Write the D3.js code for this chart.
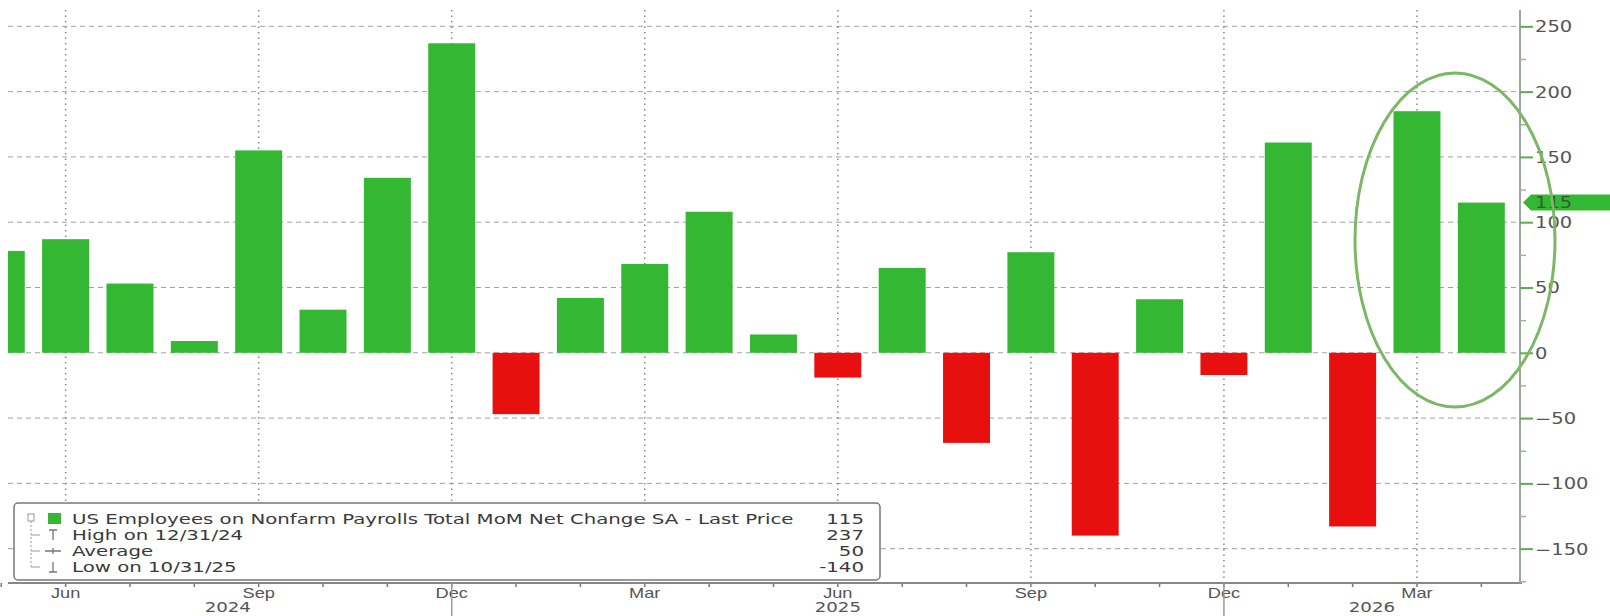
<!DOCTYPE html>
<html>
<head>
<meta charset="utf-8">
<script src="https://cdn.jsdelivr.net/npm/d3@7"></script>
<style>
body { margin: 0; background: #fff; }
svg { display: block; font-family: "DejaVu Sans", Verdana, sans-serif; }
</style>
</head>
<body>
<script>
"use strict";

// monthly change, thousands
var months = ["2024-05", "2024-06", "2024-07", "2024-08", "2024-09", "2024-10", "2024-11", "2024-12",
    "2025-01", "2025-02", "2025-03", "2025-04", "2025-05", "2025-06", "2025-07", "2025-08",
    "2025-09", "2025-10", "2025-11", "2025-12", "2026-01", "2026-02", "2026-03", "2026-04"];
var payrolls = [78, 87, 53, 9, 155, 33, 134, 237,
    -47, 42, 68, 108, 14, -19, 65, -69,
    77, -140, 41, -17, 161, -133, 185, 115];
var quarterTicks = ["2024-06", "2024-09", "2024-12", "2025-03", "2025-06", "2025-09", "2025-12", "2026-03"];
var yearLabels = ["2024", "2025", "2026"];
var yearAnchors = ["2024-08", "2025-06", "2026-02"];
var yTicks = [-150, -100, -50, 0, 50, 100, 150, 200, 250];
var yMinorTicks = [-175, -125, -75, -25, 25, 75, 125, 175, 225];
var legendLabels = ["US Employees on Nonfarm Payrolls Total MoM Net Change SA - Last Price",
    "High on 12/31/24", "Average", "Low on 10/31/25"];
var legendValues = ["115", "237", "50", "-140"];
var lastValue = 115;

var width = 1610;
var height = 616;
var plot = {left: 8, right: 1520, top: 10, bottom: 583};
var green = "#34b834";
var red = "#e8100f";
var stretch = 1.3; // text in the picture is wide

var parseMonth = d3.timeParse("%Y-%m");
var fmtMonth = d3.timeFormat("%b");

var x = d3.scaleBand().domain(months).range([-30.9, 1513.5]);
var y = d3.scaleLinear().domain([-176.3, 262.5]).range([plot.bottom, plot.top]);
var barW = x.step() * 0.73;
function xc(m) { return x(m) + x.step() / 2; }

var svg = d3.select("body").append("svg")
    .attr("width", width)
    .attr("height", height);

svg.append("defs").append("clipPath").attr("id", "plotclip")
    .append("rect")
    .attr("x", plot.left).attr("y", plot.top)
    .attr("width", plot.right - plot.left).attr("height", plot.bottom - plot.top);

// horizontal dashed grid
svg.append("g").attr("class", "hgrid")
    .selectAll("line")
    .data(yTicks)
    .enter()
    .append("line")
    .attr("x1", plot.left).attr("x2", plot.right)
    .attr("y1", function(d) { return y(d); })
    .attr("y2", function(d) { return y(d); })
    .attr("stroke", "#a0a0a0")
    .attr("stroke-width", 1)
    .attr("stroke-dasharray", "5,4");

// vertical dotted grid at quarter months
svg.append("g").attr("class", "vgrid")
    .selectAll("line")
    .data(quarterTicks)
    .enter()
    .append("line")
    .attr("x1", xc).attr("x2", xc)
    .attr("y1", plot.top).attr("y2", plot.bottom)
    .attr("stroke", "#888")
    .attr("stroke-width", 1.5)
    .attr("stroke-dasharray", "1.5,4");

// bars
svg.append("g").attr("class", "bars")
    .attr("clip-path", "url(#plotclip)")
    .selectAll("rect")
    .data(months)
    .enter()
    .append("rect")
    .attr("x", function(d) { return xc(d) - barW / 2; })
    .attr("width", barW)
    .attr("y", function(d, i) { return y(Math.max(0, payrolls[i])); })
    .attr("height", function(d, i) { return Math.abs(y(payrolls[i]) - y(0)); })
    .attr("fill", function(d, i) { return payrolls[i] < 0 ? red : green; });

// bottom axis
var xAxisG = svg.append("g")
    .attr("transform", "translate(0," + plot.bottom + ")")
    .call(d3.axisBottom(x).tickSize(4).tickSizeOuter(0).tickFormat(""));
xAxisG.select(".domain").remove();
xAxisG.selectAll(".tick line").attr("stroke", "#777").attr("stroke-width", 1.5);
xAxisG.selectAll(".tick")
    .filter(function(d) { return quarterTicks.indexOf(d) >= 0; })
    .append("text")
    .attr("text-anchor", "middle")
    .attr("transform", "translate(0,15) scale(" + stretch + ",1)")
    .attr("fill", "#555")
    .attr("font-size", 14)
    .text(function(d) { return fmtMonth(parseMonth(d)); });

svg.append("line")
    .attr("x1", plot.left).attr("x2", plot.right + 2)
    .attr("y1", plot.bottom).attr("y2", plot.bottom)
    .attr("stroke", "#888")
    .attr("stroke-width", 2);

// year separators under December
svg.append("g").selectAll("line")
    .data(["2024-12", "2025-12"])
    .enter()
    .append("line")
    .attr("x1", xc).attr("x2", xc)
    .attr("y1", plot.bottom).attr("y2", height)
    .attr("stroke", "#999")
    .attr("stroke-width", 1.5);

var yearShift = [0.52, 0, 0.3];
svg.append("g").selectAll("text")
    .data(yearLabels)
    .enter()
    .append("text")
    .attr("text-anchor", "middle")
    .attr("transform", function(d, i) {
        var px = xc(yearAnchors[i]) + yearShift[i] * x.step();
        return "translate(" + px + ",612) scale(" + stretch + ",1)";
    })
    .attr("fill", "#555")
    .attr("font-size", 14)
    .text(function(d) { return d; });

// right axis
svg.append("line")
    .attr("x1", plot.right).attr("x2", plot.right)
    .attr("y1", plot.top).attr("y2", plot.bottom)
    .attr("stroke", "#9aa89a")
    .attr("stroke-width", 2);

var minorG = svg.append("g")
    .attr("transform", "translate(" + plot.right + ",0)")
    .call(d3.axisRight(y).tickValues(yMinorTicks).tickSize(6).tickFormat(""));
minorG.select(".domain").remove();
minorG.selectAll(".tick line").attr("stroke", "#9ab79a").attr("stroke-width", 1.5);

var yAxisG = svg.append("g")
    .attr("transform", "translate(" + plot.right + ",0)")
    .call(d3.axisRight(y).tickValues(yTicks).tickSize(13).tickFormat(d3.format("d")));
yAxisG.select(".domain").remove();
yAxisG.selectAll(".tick line").attr("stroke", "#5cad4c").attr("stroke-width", 2);
yAxisG.selectAll(".tick text")
    .attr("x", 0)
    .attr("dy", "0.36em")
    .attr("transform", "translate(15,0) scale(" + stretch + ",1)")
    .attr("fill", "#555")
    .attr("font-size", 15)
    .attr("font-family", "DejaVu Sans, Verdana, sans-serif");

// last value tag
var tagY = y(lastValue);
svg.append("path")
    .attr("d", "M" + (plot.right + 3) + "," + tagY +
        "L" + (plot.right + 11) + "," + (tagY - 8) +
        "L" + width + "," + (tagY - 8) +
        "L" + width + "," + (tagY + 8) +
        "L" + (plot.right + 11) + "," + (tagY + 8) + "Z")
    .attr("fill", green);
svg.append("text")
    .attr("transform", "translate(" + (plot.right + 15) + "," + (tagY + 5.5) + ") scale(" + stretch + ",1)")
    .attr("fill", "#2f5f2f")
    .attr("font-size", 15)
    .text(lastValue);

// highlight ellipse
svg.append("ellipse")
    .attr("cx", 1455).attr("cy", 240)
    .attr("rx", 100).attr("ry", 167)
    .attr("fill", "none")
    .attr("stroke", "#7ab866")
    .attr("stroke-width", 3);

// legend
var lg = svg.append("g").attr("class", "legend");
lg.append("rect")
    .attr("x", 14).attr("y", 503)
    .attr("width", 866).attr("height", 77)
    .attr("rx", 4)
    .attr("fill", "#fff")
    .attr("stroke", "#777")
    .attr("stroke-width", 1.5);

var rowY = [519, 535, 551, 567];
// tree connector
lg.append("rect")
    .attr("x", 28).attr("y", 514).attr("width", 6).attr("height", 7)
    .attr("fill", "none").attr("stroke", "#999").attr("stroke-width", 1);
lg.append("line")
    .attr("x1", 31).attr("x2", 31).attr("y1", 521).attr("y2", rowY[3])
    .attr("stroke", "#999").attr("stroke-dasharray", "2,2");
lg.selectAll(".stub")
    .data(rowY.slice(1))
    .enter()
    .append("line")
    .attr("class", "stub")
    .attr("x1", 31).attr("x2", 40)
    .attr("y1", function(d) { return d; }).attr("y2", function(d) { return d; })
    .attr("stroke", "#999");
lg.append("rect")
    .attr("x", 48).attr("y", 513).attr("width", 13).attr("height", 11)
    .attr("fill", green);

// marker glyphs: high, average, low
var markG = lg.append("g").attr("stroke", "#777").attr("stroke-width", 1.3).attr("fill", "none");
markG.append("path").attr("d", "M49," + (rowY[1] - 5) + "H57M53," + (rowY[1] - 5) + "V" + (rowY[1] + 5));
markG.append("path").attr("d", "M45," + rowY[2] + "H61M53," + (rowY[2] - 3) + "V" + (rowY[2] + 3));
markG.append("path").attr("d", "M49," + (rowY[3] + 5) + "H57M53," + (rowY[3] + 5) + "V" + (rowY[3] - 5));

var labels = lg.selectAll(".lab")
    .data(legendLabels)
    .enter()
    .append("text")
    .attr("class", "lab")
    .attr("font-size", 14)
    .attr("fill", "#3a3a3a")
    .text(function(d) { return d; });
var natural = labels.node().getComputedTextLength();
var lgStretch = 722 / natural;
labels.attr("transform", function(d, i) {
    return "translate(72," + (rowY[i] + 5) + ") scale(" + lgStretch + ",1)";
});

lg.selectAll(".val")
    .data(legendValues)
    .enter()
    .append("text")
    .attr("class", "val")
    .attr("text-anchor", "end")
    .attr("font-size", 14)
    .attr("fill", "#3a3a3a")
    .attr("transform", function(d, i) {
        return "translate(864," + (rowY[i] + 5) + ") scale(" + lgStretch + ",1)";
    })
    .text(function(d) { return d; });
</script>
</body>
</html>
